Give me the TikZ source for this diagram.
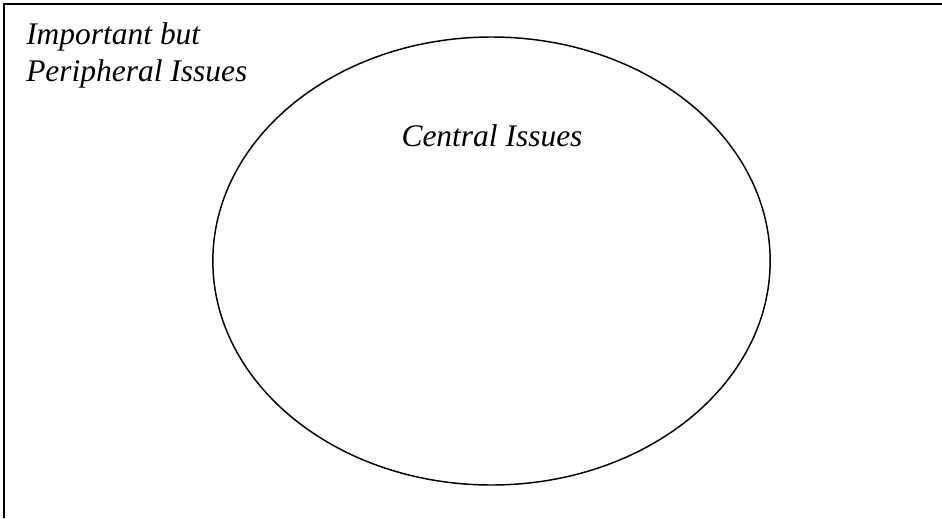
\documentclass[tikz,border=0pt]{standalone}
\usepackage{fontspec}
\setmainfont{Liberation Serif}
\usetikzlibrary{shapes.geometric}

\begin{document}
\begin{tikzpicture}[x=0.75pt, y=-0.75pt,
  issue/.style={font=\fontsize{23.6}{27.75}\selectfont\itshape, inner sep=0pt},
  frame/.style={line width=1.3pt},
]
\useasboundingbox (0,0) rectangle (942,518);
\coordinate (corner) at (4,4);
\coordinate (topend) at (942,4);
\coordinate (leftend) at (4,518);
\draw[frame] (leftend) -- (corner) -- (topend);
\node[draw, ellipse, line width=1.1pt, minimum width=418pt, minimum height=336pt, inner sep=0pt] (central) at (491.5,261) {};
\node[issue, anchor=base west, align=left] (peripheral) at (26,81) {Important but\\Peripheral Issues};
\node[issue, anchor=base] (centraltext) at (492,146) {Central Issues};
\end{tikzpicture}
\end{document}
